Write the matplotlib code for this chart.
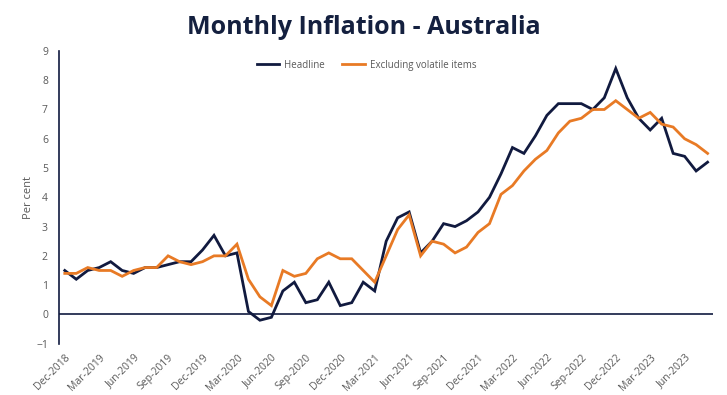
import matplotlib.pyplot as plt

plt.rcParams['font.family'] = ['Open Sans', 'DejaVu Sans']

# monthly, Dec-2018 .. Aug-2023
months = ['Dec-2018', 'Mar-2019', 'Jun-2019', 'Sep-2019', 'Dec-2019', 'Mar-2020',
          'Jun-2020', 'Sep-2020', 'Dec-2020', 'Mar-2021', 'Jun-2021', 'Sep-2021',
          'Dec-2021', 'Mar-2022', 'Jun-2022', 'Sep-2022', 'Dec-2022', 'Mar-2023',
          'Jun-2023']

headline = [1.5, 1.2, 1.5, 1.6, 1.8, 1.5, 1.4, 1.6, 1.6, 1.7, 1.8, 1.8, 2.2, 2.7,
            2.0, 2.1, 0.1, -0.2, -0.1, 0.8, 1.1, 0.4, 0.5, 1.1, 0.3, 0.4, 1.1, 0.8,
            2.5, 3.3, 3.5, 2.1, 2.5, 3.1, 3.0, 3.2, 3.5, 4.0, 4.8, 5.7, 5.5, 6.1,
            6.8, 7.2, 7.2, 7.2, 7.0, 7.4, 8.4, 7.4, 6.7, 6.3, 6.7, 5.5, 5.4, 4.9, 5.2]

excl_volatile = [1.4, 1.4, 1.6, 1.5, 1.5, 1.3, 1.5, 1.6, 1.6, 2.0, 1.8, 1.7, 1.8, 2.0,
                 2.0, 2.4, 1.2, 0.6, 0.3, 1.5, 1.3, 1.4, 1.9, 2.1, 1.9, 1.9, 1.5, 1.1,
                 2.0, 2.9, 3.4, 2.0, 2.5, 2.4, 2.1, 2.3, 2.8, 3.1, 4.1, 4.4, 4.9, 5.3,
                 5.6, 6.2, 6.6, 6.7, 7.0, 7.0, 7.3, 7.0, 6.7, 6.9, 6.5, 6.4, 6.0, 5.8, 5.5]

navy = '#111a3f'
orange = '#e87a25'
grey = '#595959'

fig = plt.figure(figsize=(7.27, 3.95), dpi=100)
ax = fig.add_axes([0.0812, 0.130, 0.900, 0.741])

x = list(range(len(headline)))
ax.plot(x, headline, color=navy, lw=2.0, label='Headline', solid_joinstyle='miter')
ax.plot(x, excl_volatile, color=orange, lw=2.0, label='Excluding volatile items',
        solid_joinstyle='miter')
ax.axhline(0, color=navy, lw=1.2)

ax.set_xlim(-0.5, len(headline) - 0.5)
ax.set_ylim(-1, 9)
ax.set_yticks(range(-1, 10))
ax.set_xticks(range(0, 3 * len(months), 3))
ax.set_xticklabels(months, rotation=45, ha='right', rotation_mode='anchor')

ax.tick_params(axis='both', length=0, labelsize=7.5, colors=grey)
ax.tick_params(axis='x', pad=6)
ax.tick_params(axis='y', pad=8)

for s in ['top', 'right', 'bottom']:
    ax.spines[s].set_visible(False)
ax.spines['left'].set_color(navy)
ax.spines['left'].set_linewidth(1.2)

ax.set_ylabel('Per cent', color=grey, fontsize=8)
ax.yaxis.set_label_coords(-0.039, 0.5)

leg = ax.legend(loc='upper center', ncol=2, frameon=False, fontsize=7,
                bbox_to_anchor=(0.47, 1.0), handlelength=2.3, handletextpad=0.5,
                columnspacing=1.8)
for t in leg.get_texts():
    t.set_color(grey)

fig.suptitle('Monthly Inflation - Australia', fontsize=18, fontweight='bold',
             color='#14203f', y=0.962)

fig.savefig('out.png', dpi=100)
